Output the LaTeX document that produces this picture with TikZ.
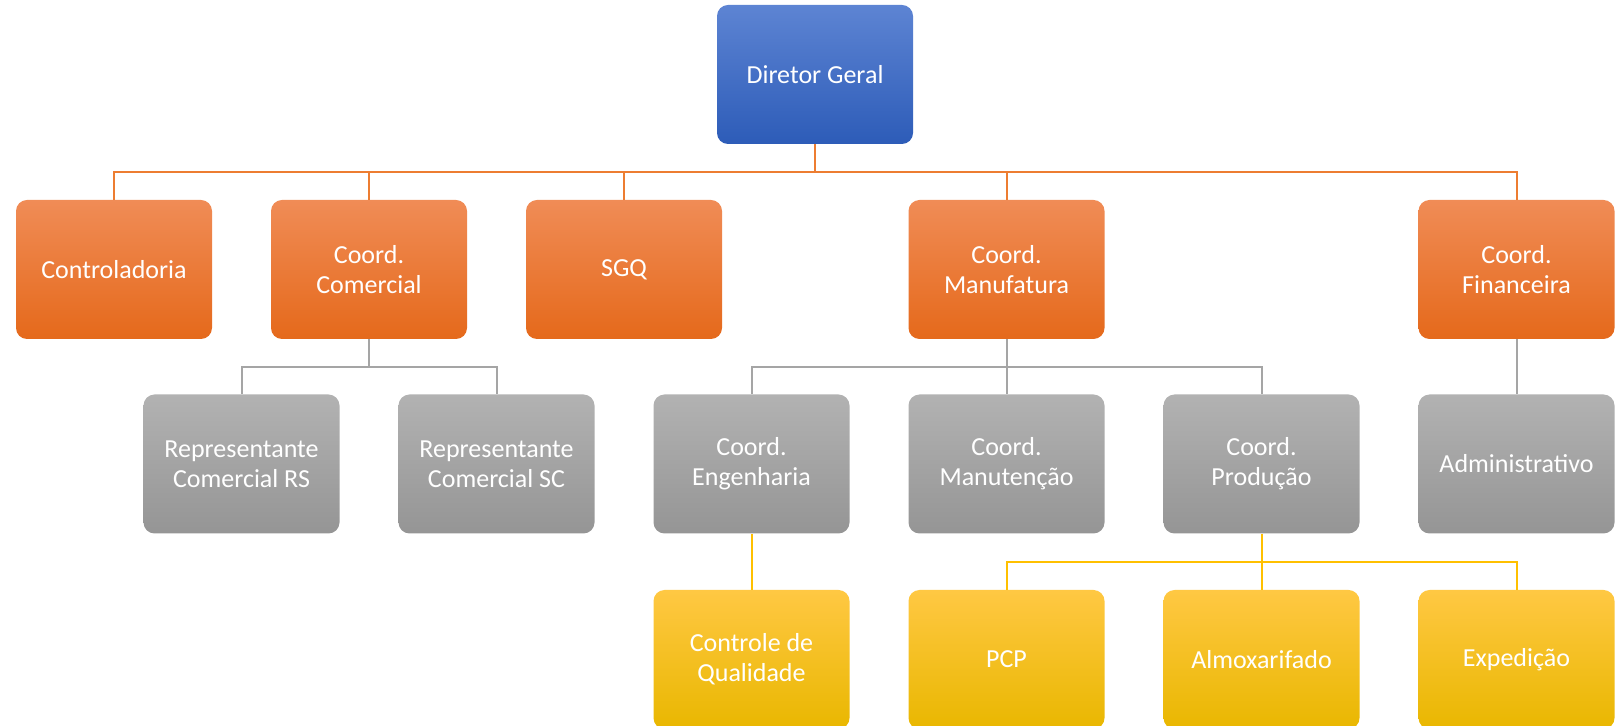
\documentclass[tikz,border=0pt]{standalone}
\usepackage{fontspec}
\setmainfont{Carlito}
\definecolor{blueT}{HTML}{5D84D3}
\definecolor{blueM}{HTML}{4470C8}
\definecolor{blueB}{HTML}{2D5CB8}
\definecolor{orgT}{HTML}{F08C56}
\definecolor{orgM}{HTML}{F07B2E}
\definecolor{orgB}{HTML}{E5691B}
\definecolor{gryT}{HTML}{B2B2B2}
\definecolor{gryM}{HTML}{A8A8A8}
\definecolor{gryB}{HTML}{959595}
\definecolor{ylwT}{HTML}{FFC843}
\definecolor{ylwM}{HTML}{FFC500}
\definecolor{ylwB}{HTML}{E9B700}
\definecolor{orgL}{HTML}{ED7D31}
\definecolor{gryL}{HTML}{A5A5A5}
\definecolor{ylwL}{HTML}{FFC000}
\begin{document}
\begin{tikzpicture}[x=0.5pt,y=-0.5pt,
	box/.style={rounded corners=5.5pt,minimum width=98pt,minimum height=69.5pt,inner sep=0pt,align=center,text=white,font=\fontsize{13}{15}\selectfont},
	dirbox/.style={box,top color=blueT,middle color=blueM,bottom color=blueB},
	orgbox/.style={box,top color=orgT,middle color=orgM,bottom color=orgB},
	grybox/.style={box,top color=gryT,middle color=gryM,bottom color=gryB},
	ylwbox/.style={box,top color=ylwT,middle color=ylwM,bottom color=ylwB},
	oline/.style={orgL,line width=1pt},
	gline/.style={gryL,line width=1pt},
	yline/.style={ylwL,line width=1pt}]
	\useasboundingbox (0,0) rectangle (1618,726);
	\node[dirbox] (dir) at (815,74.5) {Diretor Geral};
	\node[orgbox] (ctl) at (114,269.5) {Controladoria};
	\node[orgbox] (com) at (369,269.5) {Coord.\\Comercial};
	\node[orgbox] (sgq) at (624,269.5) {SGQ};
	\node[orgbox] (man) at (1006.5,269.5) {Coord.\\Manufatura};
	\node[orgbox] (fin) at (1516.5,269.5) {Coord.\\Financeira};
	\node[grybox] (rrs) at (241.5,464) {Representante\\Comercial RS};
	\node[grybox] (rsc) at (496.5,464) {Representante\\Comercial SC};
	\node[grybox] (eng) at (751.5,464) {Coord.\\Engenharia};
	\node[grybox] (mnt) at (1006.5,464) {Coord.\\Manutenção};
	\node[grybox] (prd) at (1261.5,464) {Coord.\\Produção};
	\node[grybox] (adm) at (1516.5,464) {Administrativo};
	\node[ylwbox] (cq) at (751.5,659.5) {Controle de\\Qualidade};
	\node[ylwbox] (pcp) at (1006.5,659.5) {PCP};
	\node[ylwbox] (alm) at (1261.5,659.5) {Almoxarifado};
	\node[ylwbox] (exp) at (1516.5,659.5) {Expedição};
	\foreach \c in {ctl,com,sgq,man,fin}
		\draw[oline] (dir.south) -- ++(0,28) -| (\c.north);
	\foreach \c in {rrs,rsc}
		\draw[gline] (com.south) -- ++(0,28) -| (\c.north);
	\foreach \c in {eng,mnt,prd}
		\draw[gline] (man.south) -- ++(0,28) -| (\c.north);
	\draw[gline] (fin.south) -- (adm.north);
	\draw[yline] (eng.south) -- (cq.north);
	\foreach \c in {pcp,alm,exp}
		\draw[yline] (prd.south) -- ++(0,28) -| (\c.north);
\end{tikzpicture}
\end{document}
